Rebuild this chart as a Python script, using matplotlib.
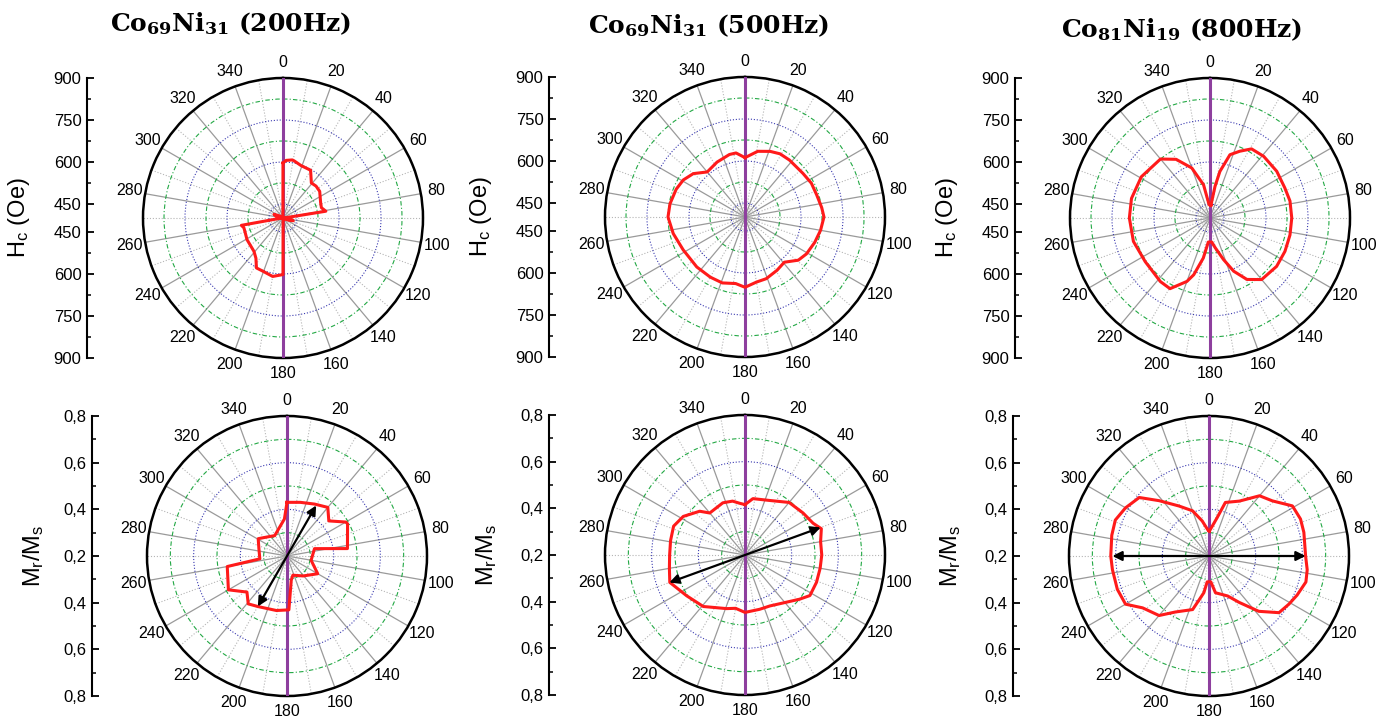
import numpy as np
import matplotlib
matplotlib.use("Agg")
import matplotlib.pyplot as plt

plt.rcParams['font.family'] = ['Liberation Sans', 'DejaVu Sans']
plt.rcParams['mathtext.fontset'] = 'dejavuserif'

# --- data (angle in degrees, clockwise from top) ---
hc200_theta = [0, 3, 9, 11, 19, 30, 39, 46, 54, 68, 75, 81, 84, 90, 100, 105, 110, 120, 150, 176,
               180, 190, 201, 208, 214, 221, 239, 248, 256, 260, 264, 270, 285, 292, 300, 320, 356, 360]
hc200_r = [596, 606, 610, 608, 598, 597, 561, 564, 562, 545, 542, 555, 410, 405, 430, 438, 425, 408, 405, 405,
           602, 612, 603, 602, 573, 558, 550, 545, 544, 551, 410, 405, 425, 435, 415, 405, 405, 596]

hc500_theta = [0, 11, 21, 29, 38, 53, 63, 73, 83, 90, 100, 110, 121, 129, 139, 149, 161, 170, 180,
               188, 199, 210, 224, 242, 257, 270, 280, 292, 301, 310, 320, 333, 346, 352, 360]
hc500_r = [612, 639, 651, 658, 658, 659, 666, 668, 676, 682, 674, 665, 656, 645, 614, 622, 633, 636, 651,
           640, 649, 648, 648, 650, 663, 675, 672, 665, 657, 641, 610, 620, 630, 631, 612]

hc800_theta = [4, 9, 12, 17.5, 24, 31, 41, 55, 68, 78, 90, 102, 114, 126, 140, 149, 156, 162, 170, 176,
               184, 189.5, 196, 200, 209.5, 218, 236, 253, 270, 284, 301, 320, 330, 340, 349, 356, 364]
hc800_r = [445, 514, 570, 637, 661, 688, 692, 691, 688, 692, 692, 692, 693, 694, 687, 656, 608, 556, 508, 486,
           486, 545, 611, 641, 690, 688, 679, 686, 688, 689, 686, 675, 642, 590, 521, 448, 445]

mr200_theta = [0, 14, 28, 40, 50, 60, 62, 83, 75, 100, 120, 141, 163, 170, 178, 191, 210, 219, 228,
               240, 260, 264, 284, 301, 313, 329, 356, 360]
mr200_r = [0.430, 0.437, 0.452, 0.472, 0.434, 0.491, 0.494, 0.461, 0.322, 0.305, 0.352, 0.310, 0.286,
           0.305, 0.431, 0.438, 0.450, 0.464, 0.431, 0.490, 0.460, 0.317, 0.324, 0.344, 0.319, 0.302,
           0.359, 0.430]

mr500_theta = [0, 8, 24, 40, 54, 65, 71, 80, 90, 100, 111, 122, 129, 140, 154, 165, 180, 190, 199,
               219, 235, 250, 260, 270, 281, 292, 302, 314, 320, 337, 347, 354, 360]
mr500_r = [0.416, 0.444, 0.456, 0.494, 0.507, 0.522, 0.546, 0.529, 0.529, 0.527, 0.528, 0.528, 0.501,
           0.466, 0.443, 0.441, 0.446, 0.432, 0.443, 0.484, 0.505, 0.543, 0.529, 0.523, 0.525, 0.530,
           0.512, 0.470, 0.435, 0.443, 0.437, 0.423, 0.416]

mr800_theta = [1, 12, 17, 29, 40, 49, 59, 68, 76, 90, 98, 105, 114, 121, 129, 138, 147, 155, 170, 176,
               184, 188, 197, 211, 220, 232, 240, 250, 262, 270, 282, 291, 300, 310, 318, 329, 340, 349,
               359, 361]
mr800_r = [0.307, 0.368, 0.440, 0.469, 0.537, 0.560, 0.617, 0.623, 0.619, 0.614, 0.625, 0.630, 0.613,
           0.600, 0.586, 0.519, 0.437, 0.389, 0.360, 0.311, 0.311, 0.359, 0.440, 0.480, 0.533, 0.561,
           0.613, 0.618, 0.618, 0.621, 0.626, 0.630, 0.613, 0.590, 0.519, 0.450, 0.406, 0.353, 0.307,
           0.307]

# double arrows in the Mr/Ms row: (angle1, angle2, r)
mr200_arrow = (30, 210, 0.45)
mr500_arrow = (70, 250, 0.545)
mr800_arrow = (90, 270, 0.614)

hc_ticks = [900, 750, 600, 450]
mr_ticks = [0.8, 0.6, 0.4, 0.2]
angle_labels = list(range(0, 360, 20))

titles = [r'$\mathbf{Co}_{\mathbf{69}}\mathbf{Ni}_{\mathbf{31}}$ (200Hz)',
          r'$\mathbf{Co}_{\mathbf{69}}\mathbf{Ni}_{\mathbf{31}}$ (500Hz)',
          r'$\mathbf{Co}_{\mathbf{81}}\mathbf{Ni}_{\mathbf{19}}$ (800Hz)']

W, H = 1397, 718
fig = plt.figure(figsize=(W / 100, H / 100), dpi=100)


def panel(cx, cy, R, spine_x, theta, r, rlim, ticks, fmt, ylabel, lab_off, arrow=None):
    rmin, rmax = rlim
    ax = fig.add_axes([(cx - R) / W, 1 - (cy + R) / H, 2 * R / W, 2 * R / H], projection='polar')
    ax.set_theta_zero_location('N')
    ax.set_theta_direction(-1)
    ax.set_ylim(rmin, rmax)

    ax.set_xticks(np.deg2rad(angle_labels))
    ax.set_xticklabels([str(a) for a in angle_labels])
    ax.set_xticks(np.deg2rad(np.arange(10, 360, 20)), minor=True)
    ax.xaxis.grid(True, which='major', color='#9a9a9a', lw=0.9, ls='-')
    ax.xaxis.grid(True, which='minor', color='#b5b5b5', lw=0.8, ls=':')
    ax.tick_params(axis='x', which='major', direction='in', length=5, width=1.2,
                   pad=4.5, labelsize=11.5)
    ax.tick_params(axis='x', which='minor', direction='in', length=3, width=1)

    # rings: blue at the labelled values, green half way between
    rings = sorted(ticks[1:])
    step = ticks[0] - ticks[1]
    ax.set_yticks(rings)
    ax.set_yticklabels([])
    ax.set_yticks([v + step / 2 for v in rings], minor=True)
    ax.yaxis.grid(True, which='major', color='#3a3ab0', lw=0.8, ls=':')
    ax.yaxis.grid(True, which='minor', color='#22a844', lw=0.8, ls=(0, (4, 2, 1, 2)))
    ax.tick_params(axis='y', which='both', length=0)
    ax.spines['polar'].set_linewidth(1.8)

    ax.plot(np.deg2rad([0, 0]), [rmin, rmax], color='#8e3f9e', lw=2.2, zorder=3)
    ax.plot(np.deg2rad([180, 180]), [rmin, rmax], color='#8e3f9e', lw=2.2, zorder=3)
    ax.plot(np.deg2rad(theta), r, color='#ff1a1a', lw=2.2, zorder=4)

    if arrow is not None:
        a1, a2, ra = arrow
        ax.annotate('', xy=(np.deg2rad(a1), ra), xytext=(np.deg2rad(a2), ra),
                    arrowprops=dict(arrowstyle='<|-|>', color='black', lw=1.6,
                                    mutation_scale=14, shrinkA=0, shrinkB=0), zorder=5)

    # linear radial scale at the left
    span = rmax - rmin
    axl = fig.add_axes([spine_x / W, 1 - (cy + R) / H, 10 / W, 2 * R / H])
    axl.set_ylim(-span, span)
    pos, labs = [], []
    for v in ticks:
        pos.append(v - rmin)
        labs.append(fmt(v))
    for v in ticks[::-1]:
        if v - rmin > 1e-9:
            pos.append(-(v - rmin))
            labs.append(fmt(v))
    axl.set_yticks(pos)
    axl.set_yticklabels(labs, fontsize=12)
    half = [v - rmin for v in ticks]
    mids = [(a + b) / 2 for a, b in zip(half[:-1], half[1:])]
    axl.set_yticks(mids + [-m for m in mids], minor=True)
    axl.set_xticks([])
    for s in ['top', 'right', 'bottom']:
        axl.spines[s].set_visible(False)
    axl.spines['left'].set_linewidth(1.5)
    axl.patch.set_alpha(0)
    axl.tick_params(axis='y', which='major', direction='in', length=5, width=1.3, pad=4)
    axl.tick_params(axis='y', which='minor', direction='in', length=3, width=1.1)
    axl.set_ylabel(ylabel, fontsize=17)
    axl.yaxis.set_label_coords(lab_off / 10, 0.5)
    return ax


hc_fmt = lambda v: f'{v:d}'
mr_fmt = lambda v: f'{v:.1f}'.replace('.', ',')
hc_label = r'H$_\mathregular{c}$ (Oe)'
mr_label = r'M$_\mathregular{r}$/M$_\mathregular{s}$'

panel(283, 218, 140, 87, hc200_theta, hc200_r, (400, 900), hc_ticks, hc_fmt, hc_label, -55)
panel(745, 217, 140, 549, hc500_theta, hc500_r, (400, 900), hc_ticks, hc_fmt, hc_label, -55)
panel(1210, 218, 140, 1015, hc800_theta, hc800_r, (400, 900), hc_ticks, hc_fmt, hc_label, -55)
panel(287, 556, 140, 92, mr200_theta, mr200_r, (0.2, 0.8), mr_ticks, mr_fmt, mr_label, -46, mr200_arrow)
panel(745, 555, 140, 549, mr500_theta, mr500_r, (0.2, 0.8), mr_ticks, mr_fmt, mr_label, -50, mr500_arrow)
panel(1209, 556, 140, 1013, mr800_theta, mr800_r, (0.2, 0.8), mr_ticks, mr_fmt, mr_label, -50, mr800_arrow)

for t, x, yb in zip(titles, [231, 709, 1182], [31, 33, 37]):
    fig.text(x / W, 1 - yb / H, t, ha='center', va='baseline', fontsize=18,
             fontweight='bold', family='DejaVu Serif')

fig.savefig('out.png', dpi=100, facecolor='white')
